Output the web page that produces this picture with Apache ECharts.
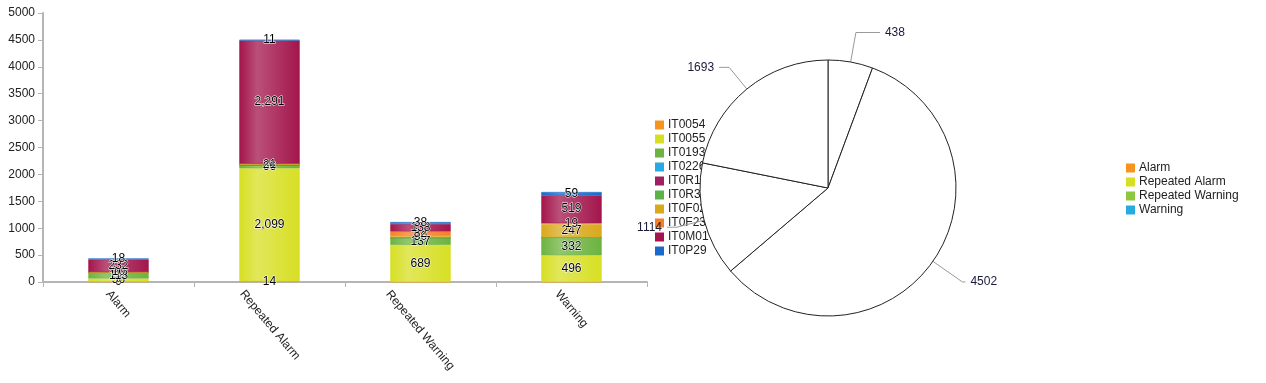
<!DOCTYPE html>
<html><head><meta charset="utf-8">
<script src="https://cdn.jsdelivr.net/npm/echarts@6/dist/echarts.min.js"></script>
<style>html,body{margin:0;padding:0;background:#fff}#c{width:1266px;height:383px}</style>
</head><body><div id="c"></div>
<script>
const categories = ['Alarm', 'Repeated Alarm', 'Repeated Warning', 'Warning'];
const seriesNames = ['IT0054', 'IT0055', 'IT0193', 'IT0226', 'IT0R1', 'IT0R3', 'IT0F02', 'IT0F23', 'IT0M01', 'IT0P29'];
const IT0054 = [9, 14, 0, 0];
const IT0055 = [56, 2099, 689, 496];
const IT0193 = [113, 66, 137, 332];
const IT0226 = [0, 0, 0, 0];
const IT0R1 = [0, 0, 0, 0];
const IT0R3 = [0, 0, 0, 0];
const IT0F02 = [10, 21, 30, 247];
const IT0F23 = [0, 0, 82, 19];
const IT0M01 = [232, 2291, 138, 519];
const IT0P29 = [18, 11, 38, 59];
const seriesValues = [IT0054, IT0055, IT0193, IT0226, IT0R1, IT0R3, IT0F02, IT0F23, IT0M01, IT0P29];
const pieNames = ['Alarm', 'Repeated Alarm', 'Repeated Warning', 'Warning'];
const pieValues = [438, 4502, 1114, 1693];
const yTicks = [0, 500, 1000, 1500, 2000, 2500, 3000, 3500, 4000, 4500, 5000];

const FONT = 'Liberation Sans, Arial, sans-serif';
const barColors = ['#F7941D', '#D7DF23', '#6DB33F', '#27AAE1', '#9E1F63', '#5BB347', '#D9A81C', '#F57F29', '#A3154C', '#1B6AC9'];
const pieColors = ['#F7941D', '#D7DF23', '#8DC63F', '#27AAE1'];

function lighten(hex, f) {
  const n = parseInt(hex.slice(1), 16);
  let r = (n >> 16) & 255, g = (n >> 8) & 255, b = n & 255;
  r = Math.round(r + (255 - r) * f); g = Math.round(g + (255 - g) * f); b = Math.round(b + (255 - b) * f);
  return 'rgb(' + r + ',' + g + ',' + b + ')';
}
function grad(hex) {
  return new echarts.graphic.LinearGradient(0, 0, 1, 0, [
    { offset: 0, color: hex },
    { offset: 0.3, color: lighten(hex, 0.25) },
    { offset: 1, color: hex }
  ]);
}

// Rotated category labels: centred under the tick, top edge at the axis (like the original)
const ROT = 50, SIN = Math.sin(ROT * Math.PI / 180), COS = Math.cos(ROT * Math.PI / 180);
const ctx = document.createElement('canvas').getContext('2d');
ctx.font = '12px ' + FONT;
const catData = categories.map(c => {
  const L = ctx.measureText(c).width;
  const d = L * SIN / 2;
  const a = d * SIN, b = d * COS;
  return {
    value: c,
    textStyle: {
      align: 'center', verticalAlign: 'top', lineHeight: 12,
      padding: [Math.max(0, Math.round(b - 6)), 0, 0, Math.round(2 * a)]
    }
  };
});

const chart = echarts.init(document.getElementById('c'), null, { renderer: 'canvas' });
const barSeries = seriesNames.map((name, i) => ({
  name: name,
  type: 'bar',
  stack: 'total',
  barWidth: '40%',
  z: 2,
  data: seriesValues[i],
  itemStyle: { color: grad(barColors[i]), borderColor: barColors[i], borderWidth: 0.5 },
  label: {
    show: true, position: 'inside', color: '#000', fontSize: 12, fontFamily: FONT,
    textBorderColor: '#fff', textBorderWidth: 1,
    formatter: p => p.value ? p.value.toLocaleString('en-US') : ''
  }
}));

chart.setOption({
  animation: false,
  textStyle: { fontFamily: FONT },
  legend: [{
    data: seriesNames.map((n, i) => ({ name: n, itemStyle: { color: barColors[i], borderWidth: 0 } })),
    orient: 'vertical', left: 650, top: 114, itemWidth: 9, itemHeight: 9, itemGap: 2, z: 1,
    icon: 'rect',
    textStyle: { fontSize: 12, lineHeight: 10, color: '#222', padding: [0, 0, 0, -1] }
  }, {
    data: pieNames.map((n, i) => ({ name: n, itemStyle: { color: pieColors[i], borderWidth: 0 } })),
    orient: 'vertical', left: 1121, top: 157, itemWidth: 9, itemHeight: 9, itemGap: 2,
    icon: 'rect',
    textStyle: { fontSize: 12, lineHeight: 10, color: '#222', padding: [0, 0, 0, -1] }
  }],
  grid: { left: 43, top: 13, width: 604, height: 269, containLabel: false, outerBoundsMode: 'none' },
  xAxis: {
    type: 'category', data: catData,
    axisLine: { lineStyle: { color: '#b5b5b5', width: 2 } },
    axisTick: { show: true, length: 5, lineStyle: { color: '#b5b5b5' } },
    axisLabel: { rotate: -ROT, color: '#222', fontSize: 12, margin: 10 }
  },
  yAxis: {
    type: 'value', min: 0, max: 5000, interval: 500,
    axisLine: { show: true, lineStyle: { color: '#b5b5b5', width: 2 } },
    axisTick: { show: true, length: 5, lineStyle: { color: '#b5b5b5' } },
    splitLine: { show: false },
    axisLabel: { color: '#222', fontSize: 12, margin: 8, formatter: v => yTicks.includes(v) ? String(v) : '' }
  },
  series: barSeries.concat([{
    name: 'pie', type: 'pie', z: 3,
    center: [828, 188], radius: 128, startAngle: 90, clockwise: true,
    data: pieNames.map((n, i) => ({
      name: n, value: pieValues[i],
      labelLine: i === 0 ? { length: 30, length2: 24 } : (i === 1 ? { length: 36, length2: 3 } : undefined)
    })),
    itemStyle: { color: '#fff', borderColor: '#222', borderWidth: 1 },
    emphasis: { disabled: true },
    label: { show: true, formatter: '{c}', color: '#1a1a3a', fontSize: 12 },
    labelLine: { show: true, length: 28, length2: 10, lineStyle: { color: '#999' } }
  }])
});
</script></body></html>
